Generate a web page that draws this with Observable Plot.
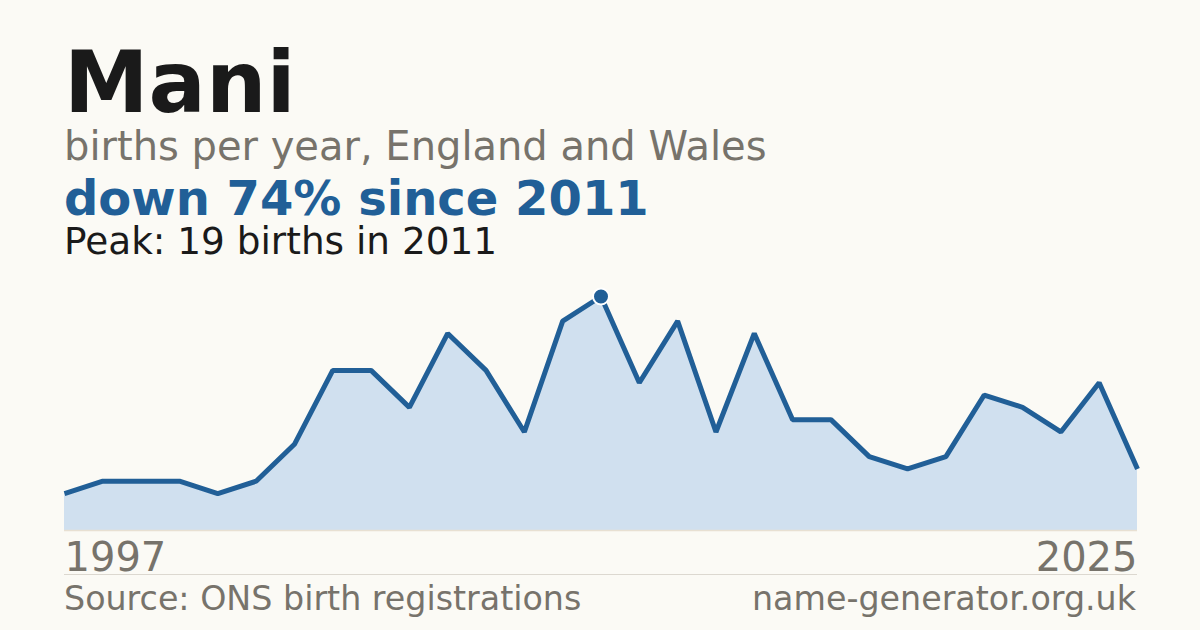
<!DOCTYPE html>
<html>
<head>
<meta charset="utf-8">
<script src="https://cdn.jsdelivr.net/npm/d3@7"></script>
<script src="https://cdn.jsdelivr.net/npm/@observablehq/plot@0.6"></script>
<style>
  html, body { margin: 0; padding: 0; }
  body { width: 1200px; height: 630px; background: #fbfaf5; position: relative; overflow: hidden; font-family: "DejaVu Sans", sans-serif; }
  .t { position: absolute; left: 64px; line-height: 0.8; white-space: nowrap; }
  #title { top: 49px; font-size: 85px; font-weight: bold; color: #1a1a1a; }
  #sub { top: 130px; font-size: 40px; color: #77736b; }
  #headline { top: 178.5px; font-size: 48px; font-weight: bold; color: #215f97; }
  #peak { top: 227px; font-size: 37.4px; color: #1a1a1a; }
  #chart { position: absolute; left: 0; top: 270px; }
  #sep { position: absolute; left: 64px; width: 1073px; top: 574px; height: 0; border-top: 1px solid #dcd8d0; }
  #src { top: 586px; font-size: 33.3px; color: #77736b; }
  #site { position: absolute; right: 64px; top: 586px; font-size: 33.3px; color: #77736b; line-height: 0.8; white-space: nowrap; }
</style>
</head>
<body>
<div class="t" id="title">Mani</div>
<div class="t" id="sub">births per year, England and Wales</div>
<div class="t" id="headline">down 74% since 2011</div>
<div class="t" id="peak">Peak: 19 births in 2011</div>
<div id="chart"></div>
<div id="sep"></div>
<div class="t" id="src">Source: ONS birth registrations</div>
<div id="site">name-generator.org.uk</div>
<script>
const years = d3.range(1997, 2026);
const births = [3, 4, 4, 4, 3, 4, 7, 13, 13, 10, 16, 13, 8, 17, 19, 12, 17, 8, 16, 9, 9, 6, 5, 6, 11, 10, 8, 12, 5];
const peakYear = [2011];
const peakValue = [19];
const firstTick = [1997];
const lastTick = [2025];

const data = years.map((y, i) => ({year: y, births: births[i]}));
const peak = peakYear.map((y, i) => ({year: y, births: peakValue[i]}));

const blue = "#215f97";
const chart = Plot.plot({
  width: 1200,
  height: 300,
  marginLeft: 64,
  marginRight: 63,
  marginTop: 26,
  marginBottom: 40,
  style: {background: "transparent", fontFamily: "DejaVu Sans, sans-serif", overflow: "visible"},
  x: {domain: [1997, 2025], label: null},
  y: {domain: [0, 19], axis: null},
  marks: [
    Plot.areaY(data, {x: "year", y: "births", fill: "#d0e0ef"}),
    Plot.ruleY([0], {stroke: "#e8e0d2", strokeWidth: 1.5}),
    Plot.lineY(data, {x: "year", y: "births", stroke: blue, strokeWidth: 5, strokeLinejoin: "miter", strokeLinecap: "butt"}),
    Plot.dot(peak, {x: "year", y: "births", r: 8, fill: blue, stroke: "white", strokeWidth: 2}),
    Plot.axisX(firstTick, {label: null, tickSize: 0, tickPadding: 0, fontSize: 40, fill: "#77736b", textAnchor: "start", tickFormat: d => String(d), dy: 12}),
    Plot.axisX(lastTick, {label: null, tickSize: 0, tickPadding: 0, fontSize: 40, fill: "#77736b", textAnchor: "end", tickFormat: d => String(d), dy: 12})
  ]
});
document.getElementById("chart").appendChild(chart);
</script>
</body>
</html>
